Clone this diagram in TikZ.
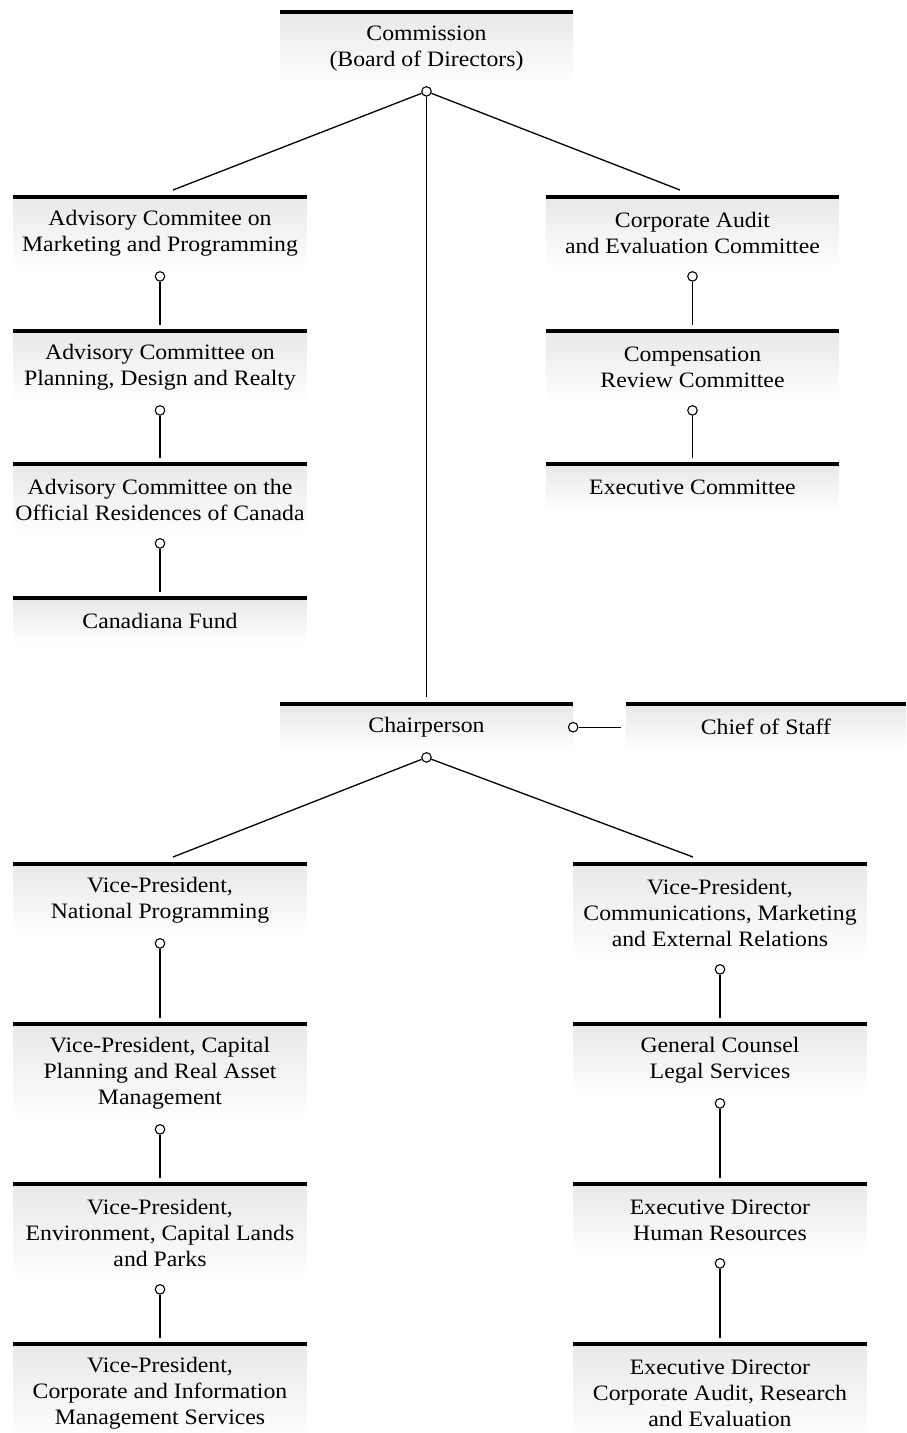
\documentclass[tikz,border=0pt]{standalone}
\usepackage{fontspec}
\setmainfont[FakeStretch=1.08]{Liberation Serif}
\usetikzlibrary{calc}
\begin{document}
\begin{tikzpicture}[x=1pt,y=-1pt,
  orgbox/.style={draw=none, top color=black!9, middle color=black!6, bottom color=white,
    minimum width=293, minimum height=20+26*#1, inner sep=0pt, anchor=north,
    align=center, font=\fontsize{22}{26}\selectfont, text=black},
  topbar/.style={line width=4pt, black},
  link/.style={line width=1.3pt, black},
  knob/.style={circle, draw=black, line width=1.1pt, fill=white, inner sep=0pt, minimum size=9.5pt}]
\useasboundingbox (0,0) rectangle (906,1433);

% upper boxes
\node[orgbox=2] (cm) at (426.5,12) {Commission\\(Board of Directors)};
\node[orgbox=2] (a1) at (160,197) {Advisory Commitee on\\Marketing and Programming};
\node[orgbox=2] (a2) at (160,331) {Advisory Committee on\\Planning, Design and Realty};
\node[orgbox=2] (a3) at (160,464) {Advisory Committee on the\\Official Residences of Canada};
\node[orgbox=1] (a4) at (160,598) {Canadiana Fund};
\node[orgbox=2] (b1) at (692.5,197) {Corporate Audit\\and Evaluation Committee};
\node[orgbox=2] (b2) at (692.5,331) {Compensation\\Review Committee};
\node[orgbox=1] (b3) at (692.5,464) {Executive Committee};
% middle
\node[orgbox=1] (ch) at (426.5,704) {Chairperson};
\node[orgbox=1, minimum width=280] (cs) at (766,704) {Chief of Staff};
% lower boxes
\node[orgbox=2] (l1) at (160,864) {Vice-President,\\National Programming};
\node[orgbox=3] (l2) at (160,1024) {Vice-President, Capital\\Planning and Real Asset\\Management};
\node[orgbox=3] (l3) at (160,1184) {Vice-President,\\Environment, Capital Lands\\and Parks};
\node[orgbox=3] (l4) at (160,1344) {Vice-President,\\Corporate and Information\\Management Services};
\node[orgbox=3] (r1) at (720,864) {Vice-President,\\Communications, Marketing\\and External Relations};
\node[orgbox=2] (r2) at (720,1024) {General Counsel\\Legal Services};
\node[orgbox=2] (r3) at (720,1184) {Executive Director\\Human Resources};
\node[orgbox=3] (r4) at (720,1344) {Executive Director\\Corporate Audit, Research\\and Evaluation};

\foreach \n in {cm,a1,a2,a3,a4,b1,b2,b3,ch,cs,l1,l2,l3,l4,r1,r2,r3,r4}
  \draw[topbar] (\n.north west) -- (\n.north east);

% free ends of connectors
\coordinate (ea1) at ($(a1.north)+(13,-7)$);
\coordinate (eb1) at ($(b1.north)+(-12.5,-7)$);
\coordinate (ech) at ($(ch.north)+(0,-7)$);
\coordinate (el1) at ($(l1.north)+(13,-7)$);
\coordinate (er1) at ($(r1.north)+(-27,-7)$);
\coordinate (ecs) at ($(cs.west)+(-5,0)$);
\foreach \n in {a2,a3,a4,b2,b3,l2,l3,l4,r2,r3,r4}
  \coordinate (e\n) at ($(\n.north)+(0,-6)$);

% knobs
\foreach \n in {cm,a1,a2,a3,b1,b2,ch,l1,l2,l3,r1,r2,r3}
  \node[knob] (k\n) at ($(\n.south)+(0,7)$) {};
\node[knob] (kcs) at (ch.east) {};

% connectors
\draw[link] (kcm) -- (ea1);
\draw[link] (kcm) -- (eb1);
\draw[link] (kcm) -- (ech);
\draw[link] (ka1) -- (ea2);
\draw[link] (ka2) -- (ea3);
\draw[link] (ka3) -- (ea4);
\draw[link] (kb1) -- (eb2);
\draw[link] (kb2) -- (eb3);
\draw[link] (kcs) -- (ecs);
\draw[link] (kch) -- (el1);
\draw[link] (kch) -- (er1);
\draw[link] (kl1) -- (el2);
\draw[link] (kl2) -- (el3);
\draw[link] (kl3) -- (el4);
\draw[link] (kr1) -- (er2);
\draw[link] (kr2) -- (er3);
\draw[link] (kr3) -- (er4);
\end{tikzpicture}
\end{document}
